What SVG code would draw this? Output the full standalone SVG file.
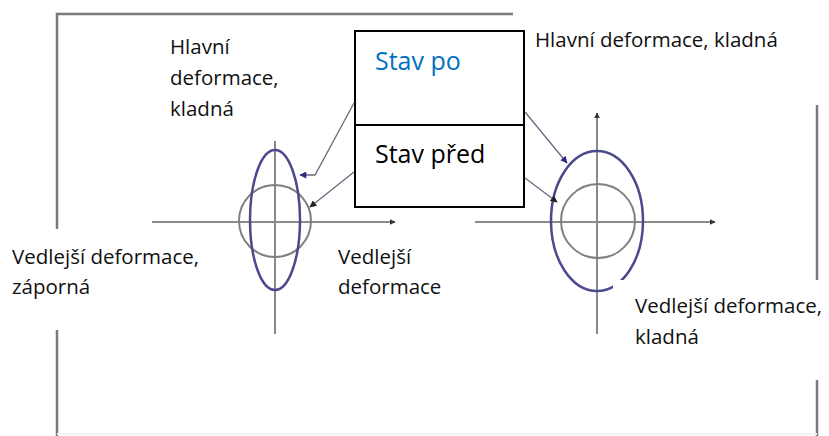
<svg xmlns="http://www.w3.org/2000/svg" width="829" height="436" viewBox="0 0 829 436">
<defs>
<style>
.frame{stroke:#7a7a7a;stroke-width:2.5;fill:none}
.axis{stroke:#8a8a8a;stroke-width:2;fill:none}
.blue{stroke:#4a4a8c;stroke-width:2.5;fill:none}
.gray{stroke:#808080;stroke-width:2;fill:none}
.lead{stroke:#6a6a80;stroke-width:1.3;fill:none}
.t{font-family:"Open Sans","Noto Sans",sans-serif;font-size:20.5px;fill:#111}
.big{font-family:"Open Sans","Noto Sans",sans-serif;font-size:25px}
</style>
<marker id="ah" viewBox="0 0 10 10" refX="9" refY="5" markerWidth="6" markerHeight="6" orient="auto" markerUnits="userSpaceOnUse"><path d="M0,0 L10,5 L0,10 z" fill="#333"/></marker>
<marker id="ahb" viewBox="0 0 10 10" refX="9" refY="5" markerWidth="8" markerHeight="7" orient="auto" markerUnits="userSpaceOnUse"><path d="M0,0 L10,5 L0,10 z" fill="#2a2a80"/></marker>
<marker id="ahk" viewBox="0 0 10 10" refX="9" refY="5" markerWidth="8" markerHeight="7" orient="auto" markerUnits="userSpaceOnUse"><path d="M0,0 L10,5 L0,10 z" fill="#222"/></marker>
</defs>
<rect width="829" height="436" fill="#fff"/>
<g id="frame">
<path class="frame" d="M57,229 V14 H513"/>
<path class="frame" d="M57,330 V436"/>
<path class="frame" d="M817,105 V280"/>
<path class="frame" d="M817,380 V436"/>
<path d="M57,434 H817" stroke="#f2f2f2" stroke-width="2"/>
</g>
<g id="left-diagram">
<line class="axis" x1="152" y1="222" x2="395" y2="222" marker-end="url(#ah)"/>
<line class="axis" x1="275" y1="141" x2="275" y2="334"/>
<circle class="gray" cx="275" cy="221" r="36"/>
<ellipse class="blue" cx="275" cy="220" rx="25" ry="70"/>
</g>
<g id="right-diagram">
<line class="axis" x1="475" y1="222" x2="715" y2="222" marker-end="url(#ah)"/>
<line class="axis" x1="597" y1="334" x2="597" y2="113" marker-end="url(#ah)"/>
<circle class="gray" cx="598" cy="221" r="37"/>
<ellipse class="blue" cx="597" cy="221" rx="46" ry="70"/>
</g>
<g id="label-cover">
<rect x="0" y="240" width="240" height="62" fill="#fff"/>
<rect x="613" y="280" width="216" height="100" fill="#fff"/>
</g>
<g id="legend-box">
<rect x="355" y="31" width="169" height="176" fill="#fff" stroke="#000" stroke-width="2"/>
<line x1="355" y1="125" x2="524" y2="125" stroke="#000" stroke-width="2"/>
<text class="big" x="375" y="70" fill="#0070C0">Stav po</text>
<text class="big" x="375" y="163" fill="#000">Stav před</text>
</g>
<g id="connectors">
<path class="lead" d="M354,103 L315,175 L300,175" marker-end="url(#ahb)"/>
<path class="lead" d="M354,172 L310,207" marker-end="url(#ahk)"/>
<path class="lead" d="M525,112 L567,163" marker-end="url(#ahb)"/>
<path class="lead" d="M525,178 L557,202" marker-end="url(#ahk)"/>
</g>
<g id="labels">
<text class="t" x="170" y="54">Hlavní</text>
<text class="t" x="170" y="85">deformace,</text>
<text class="t" x="170" y="116">kladná</text>
<text class="t" x="535" y="47">Hlavní deformace, kladná</text>
<text class="t" x="12" y="264">Vedlejší deformace,</text>
<text class="t" x="12" y="294">záporná</text>
<text class="t" x="338" y="264">Vedlejší</text>
<text class="t" x="338" y="294">deformace</text>
<text class="t" x="635" y="313">Vedlejší deformace,</text>
<text class="t" x="635" y="344">kladná</text>
</g>
</svg>
